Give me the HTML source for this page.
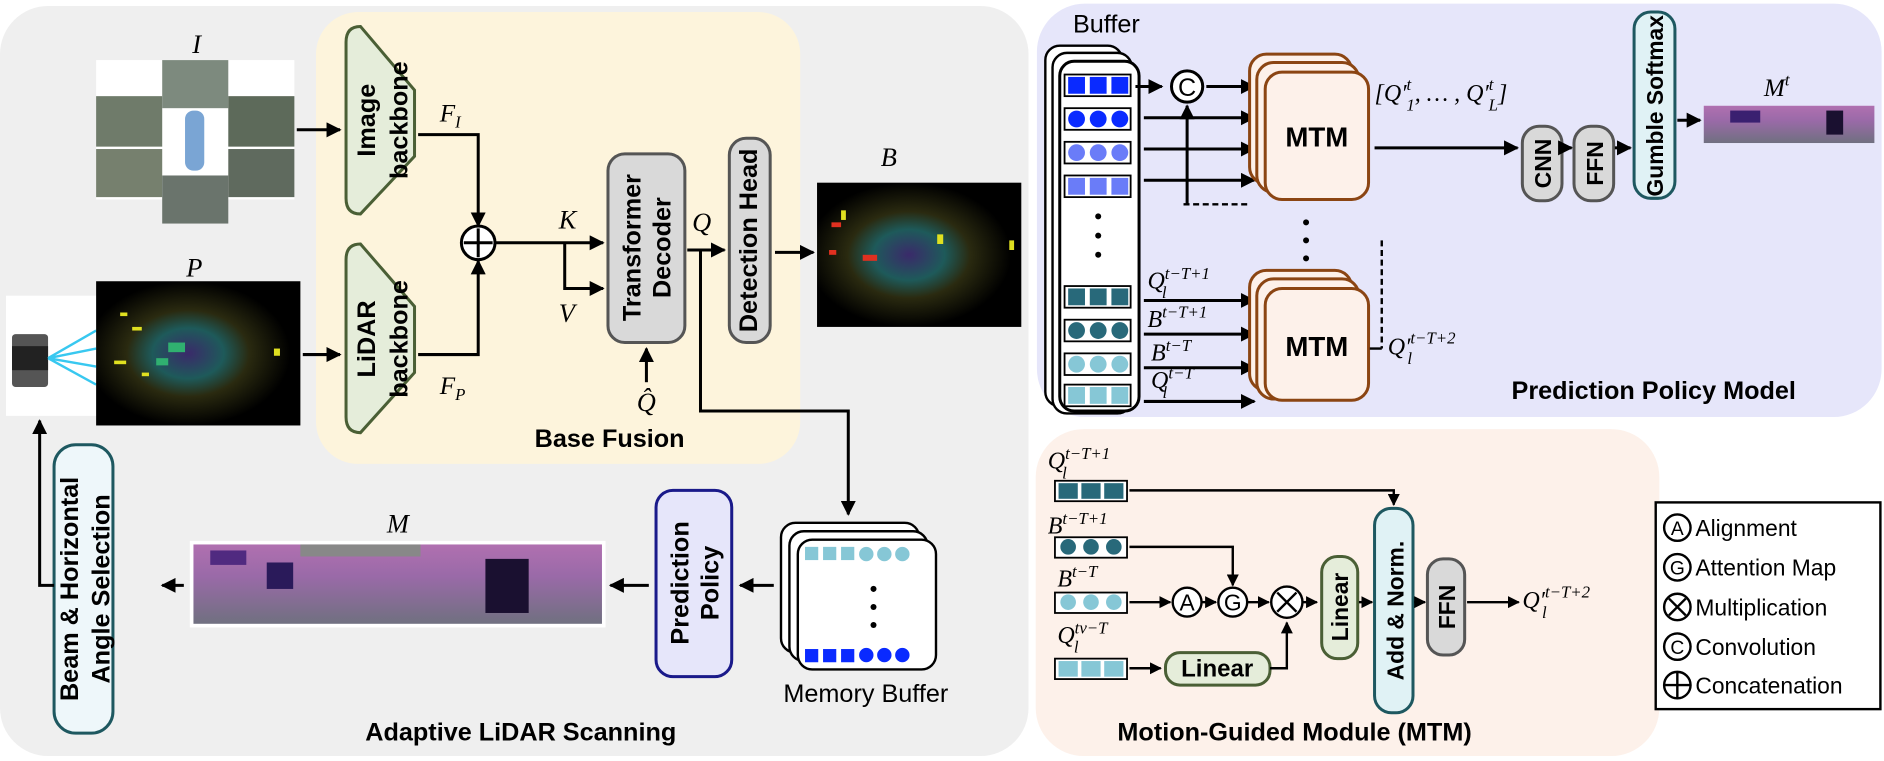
<!DOCTYPE html>
<html><head><meta charset="utf-8"><style>
html,body{margin:0;padding:0;background:#fff;}
svg text{font-family:"Liberation Sans",sans-serif;}
.b{font-weight:bold;}
.m{font-family:"Liberation Serif",serif;font-style:italic;}
</style></head><body>
<svg width="1884" height="756" viewBox="0 0 1568 629" preserveAspectRatio="none" xmlns="http://www.w3.org/2000/svg">
<defs>
<marker id="ar" viewBox="0 0 10 10" refX="9" refY="5" markerWidth="5" markerHeight="5" orient="auto"><path d="M0,0 L10,5 L0,10 z" fill="#000"/></marker>
<radialGradient id="lid" cx="0.45" cy="0.5" r="0.5"><stop offset="0" stop-color="#3a2a6a"/><stop offset="0.35" stop-color="#1e5a5a"/><stop offset="0.6" stop-color="#2a2a10"/><stop offset="1" stop-color="#000"/></radialGradient>
<linearGradient id="mg" x1="0" y1="0" x2="0" y2="1"><stop offset="0" stop-color="#b070b0"/><stop offset="0.4" stop-color="#9a6aa8"/><stop offset="1" stop-color="#707080"/></linearGradient>
</defs>

<!-- Left panel -->
<rect x="0" y="5" width="856" height="624" rx="40" fill="#efefef"/>
<rect x="263" y="10" width="403" height="376" rx="35" fill="#fdf4dc"/>

<!-- Image I -->
<text x="160" y="44" class="m" font-size="22">I</text>
<rect x="80" y="50" width="165" height="116" fill="#fff"/>
<rect x="80" y="80" width="55" height="42" fill="#6f7b6a"/>
<rect x="135" y="50" width="55" height="40" fill="#7d8a7e"/>
<rect x="190" y="80" width="55" height="42" fill="#5d6a5a"/>
<rect x="80" y="124" width="55" height="40" fill="#76806e"/>
<rect x="190" y="124" width="55" height="40" fill="#5f6a5e"/>
<rect x="135" y="146" width="55" height="40" fill="#6a746c"/>
<rect x="154" y="92" width="16" height="50" rx="7" fill="#7aa5d4"/>

<!-- P -->
<text x="155" y="230" class="m" font-size="22">P</text>
<rect x="5" y="246" width="76" height="100" fill="#fff"/>
<rect x="10" y="278" width="30" height="44" rx="3" fill="#555"/>
<rect x="10" y="288" width="30" height="20" fill="#222"/>
<path d="M40,298 L80,275 M40,298 L80,290 M40,298 L80,305 M40,298 L80,320" stroke="#38c8f0" stroke-width="2"/>
<rect x="80" y="234" width="170" height="120" fill="url(#lid)"/>
<g fill="#e0e020"><rect x="100" y="260" width="6" height="3"/><rect x="110" y="272" width="8" height="3"/><rect x="95" y="300" width="10" height="3"/><rect x="118" y="310" width="6" height="3"/><rect x="228" y="290" width="5" height="6"/></g>
<g fill="#30b070"><rect x="140" y="285" width="14" height="8"/><rect x="130" y="298" width="10" height="6"/></g>

<!-- backbones -->
<path d="M300,22 L345,75 L345,130 L300,178 Q288,178 288,165 L288,35 Q288,22 300,22 z" fill="#e5edda" stroke="#4a5f35" stroke-width="2.5"/>
<text transform="translate(317,100) rotate(-90)" text-anchor="middle" class="b" font-size="21"><tspan x="0" y="-5">Image</tspan><tspan x="0" y="22">backbone</tspan></text>
<path d="M300,203 L345,255 L345,310 L300,360 Q288,360 288,347 L288,216 Q288,203 300,203 z" fill="#e5edda" stroke="#4a5f35" stroke-width="2.5"/>
<text transform="translate(317,282) rotate(-90)" text-anchor="middle" class="b" font-size="21"><tspan x="0" y="-5">LiDAR</tspan><tspan x="0" y="22">backbone</tspan></text>

<line x1="247" y1="108" x2="283" y2="108" stroke="#000" stroke-width="2.5" marker-end="url(#ar)"/>
<line x1="252" y1="295" x2="283" y2="295" stroke="#000" stroke-width="2.5" marker-end="url(#ar)"/>
<text x="366" y="101" class="m" font-size="21">F<tspan font-size="14" dy="5">I</tspan></text>
<text x="366" y="328" class="m" font-size="21">F<tspan font-size="14" dy="5">P</tspan></text>
<polyline points="348,112 398,112 398,188" fill="none" stroke="#000" stroke-width="2.5" marker-end="url(#ar)"/>
<polyline points="348,295 398,295 398,217" fill="none" stroke="#000" stroke-width="2.5" marker-end="url(#ar)"/>
<circle cx="398" cy="202" r="14" fill="#fff" stroke="#000" stroke-width="2.5"/>
<path d="M386,202 H410 M398,190 V214" stroke="#000" stroke-width="2.5"/>
<line x1="412" y1="202" x2="502" y2="202" stroke="#000" stroke-width="2.5" marker-end="url(#ar)"/>
<polyline points="470,202 470,240 502,240" fill="none" stroke="#000" stroke-width="2.5" marker-end="url(#ar)"/>
<text x="465" y="190" class="m" font-size="22">K</text>
<text x="465" y="268" class="m" font-size="22">V</text>

<rect x="506" y="128" width="64" height="157" rx="14" fill="#d9d9d9" stroke="#555" stroke-width="2.5"/>
<text transform="translate(538,206) rotate(-90)" text-anchor="middle" class="b" font-size="21"><tspan x="0" y="-5">Transformer</tspan><tspan x="0" y="20">Decoder</tspan></text>
<line x1="538" y1="318" x2="538" y2="290" stroke="#000" stroke-width="2.5" marker-end="url(#ar)"/>
<text x="530" y="342" class="m" font-size="22">Q̂</text>
<text x="576" y="192" class="m" font-size="22">Q</text>
<line x1="572" y1="208" x2="603" y2="208" stroke="#000" stroke-width="2.5" marker-end="url(#ar)"/>
<rect x="607" y="115" width="34" height="170" rx="14" fill="#d9d9d9" stroke="#555" stroke-width="2.5"/>
<text transform="translate(630,200) rotate(-90)" text-anchor="middle" class="b" font-size="21">Detection Head</text>
<line x1="645" y1="210" x2="677" y2="210" stroke="#000" stroke-width="2.5" marker-end="url(#ar)"/>
<polyline points="583,208 583,342 706,342 706,428" fill="none" stroke="#000" stroke-width="2.5" marker-end="url(#ar)"/>
<text x="445" y="372" class="b" font-size="21">Base Fusion</text>

<!-- B -->
<text x="733" y="138" class="m" font-size="22">B</text>
<rect x="680" y="152" width="170" height="120" fill="url(#lid)"/>
<g fill="#e03020"><rect x="692" y="185" width="8" height="4"/><rect x="718" y="212" width="12" height="5"/><rect x="690" y="208" width="6" height="4"/></g>
<g fill="#e0e020"><rect x="700" y="175" width="4" height="8"/><rect x="780" y="195" width="5" height="8"/><rect x="840" y="200" width="4" height="8"/></g>

<!-- memory buffer -->
<rect x="650" y="435" width="115" height="108" rx="12" fill="#fff" stroke="#000" stroke-width="2"/>
<rect x="657" y="442" width="115" height="108" rx="12" fill="#fff" stroke="#000" stroke-width="2"/>
<rect x="664" y="449" width="115" height="108" rx="12" fill="#fff" stroke="#000" stroke-width="2"/>
<g fill="#86c7d6"><rect x="670" y="455" width="11" height="11"/><rect x="685" y="455" width="11" height="11"/><rect x="700" y="455" width="11" height="11"/><circle cx="721" cy="461" r="6"/><circle cx="736" cy="461" r="6"/><circle cx="751" cy="461" r="6"/></g>
<g fill="#0a2aff"><rect x="670" y="540" width="11" height="11"/><rect x="685" y="540" width="11" height="11"/><rect x="700" y="540" width="11" height="11"/><circle cx="721" cy="545" r="6"/><circle cx="736" cy="545" r="6"/><circle cx="751" cy="545" r="6"/></g>
<circle cx="727" cy="490" r="2.5"/><circle cx="727" cy="505" r="2.5"/><circle cx="727" cy="520" r="2.5"/>
<text x="652" y="584" font-size="21">Memory Buffer</text>
<line x1="644" y1="487" x2="616" y2="487" stroke="#000" stroke-width="2.5" marker-end="url(#ar)"/>
<rect x="546" y="408" width="63" height="155" rx="14" fill="#e6e6fa" stroke="#1a1a8a" stroke-width="2.5"/>
<text transform="translate(578,485) rotate(-90)" text-anchor="middle" class="b" font-size="21"><tspan x="0" y="-5">Prediction</tspan><tspan x="0" y="20">Policy</tspan></text>
<line x1="540" y1="487" x2="508" y2="487" stroke="#000" stroke-width="2.5" marker-end="url(#ar)"/>
<text x="322" y="443" class="m" font-size="22">M</text>
<rect x="158" y="450" width="346" height="72" fill="#fff"/>
<rect x="161" y="453" width="340" height="66" fill="url(#mg)"/>
<rect x="175" y="458" width="30" height="12" fill="#502a80"/>
<rect x="222" y="468" width="22" height="22" fill="#2a1a5a"/>
<rect x="404" y="465" width="36" height="45" fill="#1a1030"/>
<rect x="250" y="453" width="100" height="10" fill="#888"/>
<line x1="153" y1="487" x2="135" y2="487" stroke="#000" stroke-width="2.5" marker-end="url(#ar)"/>
<rect x="45" y="370" width="49" height="240" rx="18" fill="#eef7fa" stroke="#1e5860" stroke-width="2.5"/>
<text transform="translate(70,490) rotate(-90)" text-anchor="middle" class="b" font-size="21"><tspan x="0" y="-5">Beam &amp; Horizontal</tspan><tspan x="0" y="21">Angle Selection</tspan></text>
<polyline points="45,487 33,487 33,350" fill="none" stroke="#000" stroke-width="2.5" marker-end="url(#ar)"/>
<text x="304" y="616" class="b" font-size="21">Adaptive LiDAR Scanning</text>

<!-- Prediction Policy Model panel -->
<rect x="863" y="3" width="703" height="344" rx="40" fill="#e6e6fa"/>
<text x="893" y="27" font-size="21">Buffer</text>
<rect x="870" y="38" width="64" height="300" rx="12" fill="#fff" stroke="#000" stroke-width="2"/>
<rect x="876" y="44" width="66" height="300" rx="12" fill="#fff" stroke="#000" stroke-width="2"/>
<rect x="882" y="51" width="66" height="291" rx="12" fill="#fff" stroke="#000" stroke-width="2.5"/>
<g stroke="#000" stroke-width="1.5" fill="#fff">
<rect x="886" y="62" width="55" height="18"/><rect x="886" y="90" width="55" height="18"/><rect x="886" y="118" width="55" height="18"/><rect x="886" y="146" width="55" height="18"/>
<rect x="886" y="238" width="55" height="18"/><rect x="886" y="266" width="55" height="18"/><rect x="886" y="294" width="55" height="18"/><rect x="886" y="320" width="55" height="18"/>
</g>
<g fill="#0a2aff"><rect x="889" y="64" width="14" height="14"/><rect x="907" y="64" width="14" height="14"/><rect x="925" y="64" width="14" height="14"/><circle cx="896" cy="99" r="7"/><circle cx="914" cy="99" r="7"/><circle cx="932" cy="99" r="7"/></g>
<g fill="#6a7cf8"><circle cx="896" cy="127" r="7"/><circle cx="914" cy="127" r="7"/><circle cx="932" cy="127" r="7"/><rect x="889" y="148" width="14" height="14"/><rect x="907" y="148" width="14" height="14"/><rect x="925" y="148" width="14" height="14"/></g>
<g fill="#28697a"><rect x="889" y="240" width="14" height="14"/><rect x="907" y="240" width="14" height="14"/><rect x="925" y="240" width="14" height="14"/><circle cx="896" cy="275" r="7"/><circle cx="914" cy="275" r="7"/><circle cx="932" cy="275" r="7"/></g>
<g fill="#86c7d6"><circle cx="896" cy="303" r="7"/><circle cx="914" cy="303" r="7"/><circle cx="932" cy="303" r="7"/><rect x="889" y="322" width="14" height="14"/><rect x="907" y="322" width="14" height="14"/><rect x="925" y="322" width="14" height="14"/></g>
<circle cx="914" cy="180" r="2.5"/><circle cx="914" cy="196" r="2.5"/><circle cx="914" cy="212" r="2.5"/>
<line x1="945" y1="72" x2="967" y2="72" stroke="#000" stroke-width="2.5" marker-end="url(#ar)"/>
<circle cx="988" cy="72" r="13" fill="#fff" stroke="#000" stroke-width="2.5"/>
<text x="988" y="80" text-anchor="middle" font-family="Liberation Serif" font-size="21">C</text>
<polyline points="985,170 1040,170" fill="none" stroke="#000" stroke-width="2" stroke-dasharray="5,3"/>
<line x1="988" y1="170" x2="988" y2="88" stroke="#000" stroke-width="2.5" marker-end="url(#ar)"/>
<line x1="1004" y1="72" x2="1044" y2="72" stroke="#000" stroke-width="2.5" marker-end="url(#ar)"/>
<line x1="952" y1="98" x2="1044" y2="98" stroke="#000" stroke-width="2.5" marker-end="url(#ar)"/>
<line x1="952" y1="124" x2="1044" y2="124" stroke="#000" stroke-width="2.5" marker-end="url(#ar)"/>
<line x1="952" y1="150" x2="1044" y2="150" stroke="#000" stroke-width="2.5" marker-end="url(#ar)"/>
<rect x="1040" y="45" width="85" height="108" rx="14" fill="#fdf1ea" stroke="#8b4513" stroke-width="2.5"/>
<rect x="1046" y="52" width="85" height="108" rx="14" fill="#fdf1ea" stroke="#8b4513" stroke-width="2.5"/>
<rect x="1053" y="60" width="86" height="106" rx="14" fill="#fdf1ea" stroke="#8b4513" stroke-width="2.5"/>
<text x="1096" y="122" text-anchor="middle" class="b" font-size="23">MTM</text>
<text x="1144" y="84" class="m" font-size="20">[Q′<tspan font-size="14" dy="-9">t</tspan><tspan font-size="14" dx="-4" dy="17">1</tspan><tspan dy="-8">, … , Q′</tspan><tspan font-size="14" dy="-9">t</tspan><tspan font-size="14" dx="-4" dy="17">L</tspan><tspan dy="-8">]</tspan></text>
<line x1="1144" y1="123" x2="1263" y2="123" stroke="#000" stroke-width="2.5" marker-end="url(#ar)"/>
<rect x="1267" y="105" width="33" height="62" rx="14" fill="#d9d9d9" stroke="#555" stroke-width="2.5"/>
<text transform="translate(1291,136) rotate(-90)" text-anchor="middle" class="b" font-size="19">CNN</text>
<line x1="1301" y1="123" x2="1308" y2="123" stroke="#000" stroke-width="2.5" marker-end="url(#ar)"/>
<rect x="1310" y="105" width="33" height="62" rx="14" fill="#d9d9d9" stroke="#555" stroke-width="2.5"/>
<text transform="translate(1334,136) rotate(-90)" text-anchor="middle" class="b" font-size="19">FFN</text>
<line x1="1344" y1="123" x2="1357" y2="123" stroke="#000" stroke-width="2.5" marker-end="url(#ar)"/>
<rect x="1360" y="10" width="34" height="155" rx="14" fill="#e0f2f5" stroke="#1e5860" stroke-width="2.5"/>
<text transform="translate(1384,88) rotate(-90)" text-anchor="middle" class="b" font-size="19">Gumble Softmax</text>
<line x1="1396" y1="100" x2="1415" y2="100" stroke="#000" stroke-width="2.5" marker-end="url(#ar)"/>
<text x="1468" y="80" class="m" font-size="21">M<tspan font-size="14" dy="-9">t</tspan></text>
<rect x="1418" y="88" width="142" height="31" fill="url(#mg)"/>
<rect x="1440" y="92" width="25" height="10" fill="#3a2070"/>
<rect x="1520" y="92" width="14" height="20" fill="#1a1030"/>
<circle cx="1087" cy="185" r="2.5"/><circle cx="1087" cy="200" r="2.5"/><circle cx="1087" cy="215" r="2.5"/>
<line x1="1150" y1="200" x2="1150" y2="290" stroke="#000" stroke-width="2" stroke-dasharray="5,3"/>
<text x="955" y="240" class="m" font-size="20">Q<tspan font-size="14" dy="-8">t−T+1</tspan><tspan font-size="14" dx="-40" dy="16">l</tspan></text>
<line x1="952" y1="250" x2="1044" y2="250" stroke="#000" stroke-width="2.5" marker-end="url(#ar)"/>
<text x="955" y="272" class="m" font-size="20">B<tspan font-size="14" dy="-8">t−T+1</tspan></text>
<line x1="952" y1="278" x2="1044" y2="278" stroke="#000" stroke-width="2.5" marker-end="url(#ar)"/>
<text x="958" y="300" class="m" font-size="20">B<tspan font-size="14" dy="-8">t−T</tspan></text>
<line x1="952" y1="306" x2="1044" y2="306" stroke="#000" stroke-width="2.5" marker-end="url(#ar)"/>
<text x="958" y="323" class="m" font-size="20">Q<tspan font-size="14" dy="-8">t−T</tspan><tspan font-size="14" dx="-26" dy="16">l</tspan></text>
<line x1="952" y1="334" x2="1044" y2="334" stroke="#000" stroke-width="2.5" marker-end="url(#ar)"/>
<rect x="1040" y="225" width="85" height="100" rx="14" fill="#fdf1ea" stroke="#8b4513" stroke-width="2.5"/>
<rect x="1046" y="232" width="85" height="100" rx="14" fill="#fdf1ea" stroke="#8b4513" stroke-width="2.5"/>
<rect x="1053" y="240" width="86" height="93" rx="14" fill="#fdf1ea" stroke="#8b4513" stroke-width="2.5"/>
<text x="1096" y="296" text-anchor="middle" class="b" font-size="23">MTM</text>
<line x1="1140" y1="290" x2="1150" y2="290" stroke="#000" stroke-width="2"/>
<text x="1155" y="295" class="m" font-size="20">Q′<tspan font-size="14" dy="-9">t−T+2</tspan><tspan font-size="14" dx="-40" dy="17">l</tspan></text>
<text x="1258" y="332" class="b" font-size="21">Prediction Policy Model</text>

<!-- MTM panel -->
<rect x="862" y="357" width="519" height="272" rx="40" fill="#fdf1ea"/>
<text x="872" y="390" class="m" font-size="20">Q<tspan font-size="14" dy="-8">t−T+1</tspan><tspan font-size="14" dx="-40" dy="16">l</tspan></text>
<rect x="878" y="400" width="60" height="17" fill="#fff" stroke="#000" stroke-width="1.5"/>
<g fill="#28697a"><rect x="881" y="402" width="16" height="13"/><rect x="900" y="402" width="16" height="13"/><rect x="919" y="402" width="16" height="13"/></g>
<polyline points="940,408 1160,408 1160,420" fill="none" stroke="#000" stroke-width="2" marker-end="url(#ar)"/>
<text x="872" y="444" class="m" font-size="20">B<tspan font-size="14" dy="-8">t−T+1</tspan></text>
<rect x="878" y="447" width="60" height="17" fill="#fff" stroke="#000" stroke-width="1.5"/>
<g fill="#28697a"><circle cx="889" cy="455" r="6.5"/><circle cx="908" cy="455" r="6.5"/><circle cx="927" cy="455" r="6.5"/></g>
<polyline points="940,455 1026,455 1026,487" fill="none" stroke="#000" stroke-width="2" marker-end="url(#ar)"/>
<text x="880" y="488" class="m" font-size="20">B<tspan font-size="14" dy="-8">t−T</tspan></text>
<rect x="878" y="493" width="60" height="17" fill="#fff" stroke="#000" stroke-width="1.5"/>
<g fill="#86c7d6"><circle cx="889" cy="501" r="6.5"/><circle cx="908" cy="501" r="6.5"/><circle cx="927" cy="501" r="6.5"/></g>
<line x1="940" y1="501" x2="974" y2="501" stroke="#000" stroke-width="2" marker-end="url(#ar)"/>
<circle cx="988" cy="501" r="12" fill="#fff" stroke="#000" stroke-width="2"/><text x="988" y="508" text-anchor="middle" font-family="Liberation Serif" font-size="19">A</text>
<line x1="1000" y1="501" x2="1012" y2="501" stroke="#000" stroke-width="2" marker-end="url(#ar)"/>
<circle cx="1026" cy="501" r="12" fill="#fff" stroke="#000" stroke-width="2"/><text x="1026" y="508" text-anchor="middle" font-family="Liberation Serif" font-size="19">G</text>
<line x1="1038" y1="501" x2="1056" y2="501" stroke="#000" stroke-width="2" marker-end="url(#ar)"/>
<circle cx="1071" cy="501" r="13" fill="#fff" stroke="#000" stroke-width="2"/><path d="M1063,493 L1079,509 M1079,493 L1063,509" stroke="#000" stroke-width="2"/>
<line x1="1084" y1="501" x2="1096" y2="501" stroke="#000" stroke-width="2" marker-end="url(#ar)"/>
<text x="880" y="535" class="m" font-size="20">Q<tspan font-size="14" dy="-8">tν−T</tspan><tspan font-size="14" dx="-28" dy="16">l</tspan></text>
<rect x="878" y="548" width="60" height="17" fill="#fff" stroke="#000" stroke-width="1.5"/>
<g fill="#86c7d6"><rect x="881" y="550" width="16" height="13"/><rect x="900" y="550" width="16" height="13"/><rect x="919" y="550" width="16" height="13"/></g>
<line x1="940" y1="556" x2="966" y2="556" stroke="#000" stroke-width="2" marker-end="url(#ar)"/>
<rect x="970" y="543" width="87" height="27" rx="12" fill="#e5edda" stroke="#4a5f35" stroke-width="2.5"/>
<text x="1013" y="563" text-anchor="middle" class="b" font-size="20">Linear</text>
<polyline points="1057,556 1071,556 1071,518" fill="none" stroke="#000" stroke-width="2" marker-end="url(#ar)"/>
<rect x="1100" y="463" width="30" height="85" rx="13" fill="#e5edda" stroke="#4a5f35" stroke-width="2.5"/>
<text transform="translate(1122,505) rotate(-90)" text-anchor="middle" class="b" font-size="19">Linear</text>
<line x1="1131" y1="501" x2="1142" y2="501" stroke="#000" stroke-width="2" marker-end="url(#ar)"/>
<rect x="1144" y="423" width="32" height="170" rx="14" fill="#e0f2f5" stroke="#1e5860" stroke-width="2.5"/>
<text transform="translate(1168,508) rotate(-90)" text-anchor="middle" class="b" font-size="19">Add &amp; Norm.</text>
<line x1="1177" y1="501" x2="1186" y2="501" stroke="#000" stroke-width="2" marker-end="url(#ar)"/>
<rect x="1188" y="465" width="31" height="80" rx="13" fill="#d9d9d9" stroke="#555" stroke-width="2.5"/>
<text transform="translate(1211,505) rotate(-90)" text-anchor="middle" class="b" font-size="19">FFN</text>
<line x1="1221" y1="501" x2="1264" y2="501" stroke="#000" stroke-width="2" marker-end="url(#ar)"/>
<text x="1267" y="506" class="m" font-size="20">Q′<tspan font-size="14" dy="-9">t−T+2</tspan><tspan font-size="14" dx="-40" dy="17">l</tspan></text>
<text x="930" y="616" class="b" font-size="21">Motion-Guided Module (MTM)</text>

<!-- legend -->
<rect x="1378" y="418" width="187" height="172" fill="#fff" stroke="#000" stroke-width="2"/>
<g font-size="19">
<circle cx="1396" cy="439" r="11" fill="#fff" stroke="#000" stroke-width="2"/><text x="1396" y="445" text-anchor="middle" font-family="Liberation Serif" font-size="16">A</text><text x="1411" y="446">Alignment</text>
<circle cx="1396" cy="472" r="11" fill="#fff" stroke="#000" stroke-width="2"/><text x="1396" y="478" text-anchor="middle" font-family="Liberation Serif" font-size="16">G</text><text x="1411" y="479">Attention Map</text>
<circle cx="1396" cy="505" r="11" fill="#fff" stroke="#000" stroke-width="2"/><path d="M1389,498 L1403,512 M1403,498 L1389,512" stroke="#000" stroke-width="2"/><text x="1411" y="512">Multiplication</text>
<circle cx="1396" cy="538" r="11" fill="#fff" stroke="#000" stroke-width="2"/><text x="1396" y="544" text-anchor="middle" font-family="Liberation Serif" font-size="16">C</text><text x="1411" y="545">Convolution</text>
<circle cx="1396" cy="570" r="11" fill="#fff" stroke="#000" stroke-width="2"/><path d="M1385,570 H1407 M1396,559 V581" stroke="#000" stroke-width="2"/><text x="1411" y="577">Concatenation</text>
</g>
</svg>
</body></html>
